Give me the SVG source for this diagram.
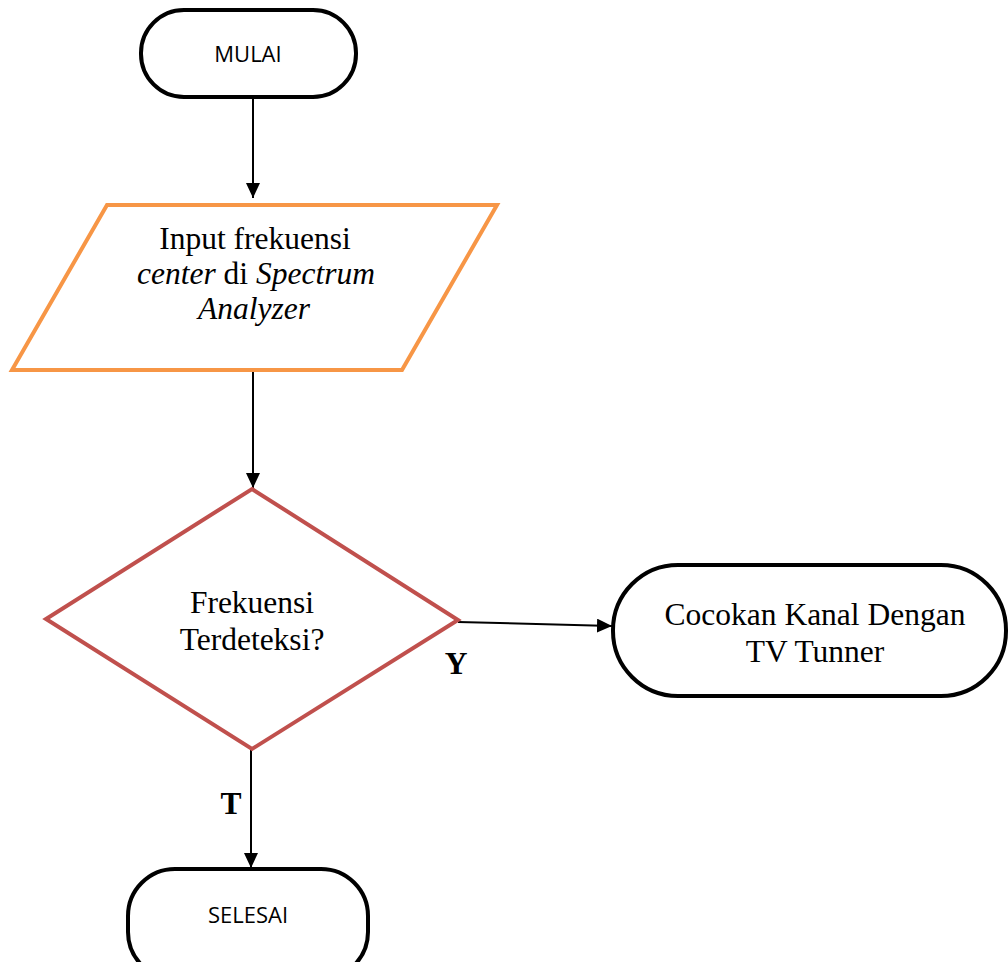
<svg xmlns="http://www.w3.org/2000/svg" width="1008" height="962" viewBox="0 0 1008 962">
<style>
.term{fill:#fff;stroke:#000;stroke-width:4}
.sans{font-family:"Open Sans","Liberation Sans",sans-serif;font-size:22px;fill:#000}
.serif{font-family:"Liberation Serif","Times New Roman",serif;font-size:31.5px;fill:#000}
.conn{stroke:#000;stroke-width:2;fill:none}
</style>
<defs>
<marker id="ah" markerWidth="15" markerHeight="14" refX="15" refY="7" orient="auto" markerUnits="userSpaceOnUse" viewBox="0 0 15 14">
<path d="M0,0 L15,7 L0,14 z" fill="#000"/>
</marker>
</defs>
<g id="connectors">
<line class="conn" x1="253" y1="97" x2="253" y2="198" marker-end="url(#ah)"/>
<line class="conn" x1="253" y1="370" x2="253" y2="488" marker-end="url(#ah)"/>
<line class="conn" x1="458" y1="622" x2="612" y2="626" marker-end="url(#ah)"/>
<line class="conn" x1="251" y1="749" x2="251" y2="868" marker-end="url(#ah)"/>
</g>
<g id="mulai">
<rect class="term" x="141" y="10" width="215" height="87" rx="43" ry="43"/>
<text class="sans" x="248" y="62" text-anchor="middle">MULAI</text>
</g>
<g id="input">
<polygon points="107,205 497,205 402,370 12,370" fill="#fff" stroke="#F79646" stroke-width="4"/>
<text class="serif" x="255" y="249" text-anchor="middle">Input frekuensi</text>
<text class="serif" x="256" y="284" text-anchor="middle"><tspan font-style="italic">center</tspan> di <tspan font-style="italic">Spectrum</tspan></text>
<text class="serif" x="254" y="319" text-anchor="middle" font-style="italic">Analyzer</text>
</g>
<g id="decision">
<polygon points="252,489 458,620 252,749 46,619" fill="#fff" stroke="#C0504D" stroke-width="4"/>
<text class="serif" x="252" y="613" text-anchor="middle">Frekuensi</text>
<text class="serif" x="252" y="650" text-anchor="middle">Terdeteksi?</text>
</g>
<g id="cocokan">
<rect class="term" x="613" y="565" width="393" height="131" rx="65" ry="65"/>
<text class="serif" x="815" y="625" text-anchor="middle">Cocokan Kanal Dengan</text>
<text class="serif" x="815" y="662" text-anchor="middle">TV Tunner</text>
</g>
<g id="selesai">
<rect class="term" x="128" y="869" width="240" height="110" rx="47" ry="47"/>
<text class="sans" x="248" y="923" text-anchor="middle">SELESAI</text>
</g>
<g id="labels">
<text class="serif" x="456" y="674" text-anchor="middle" font-weight="bold">Y</text>
<text class="serif" x="231" y="814" text-anchor="middle" font-weight="bold">T</text>
</g>
</svg>
